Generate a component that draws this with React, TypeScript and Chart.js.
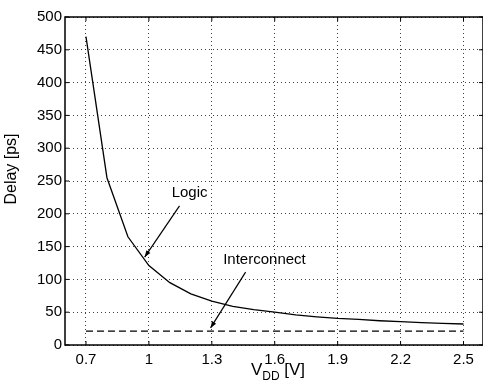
import React, { useEffect, useRef } from "react";
import { Chart, registerables } from "chart.js";

Chart.register(...registerables);

const voltages = [0.7, 0.8, 0.9, 1.0, 1.1, 1.2, 1.3, 1.4, 1.5, 1.6, 1.7, 1.8, 1.9, 2.0, 2.1, 2.2, 2.3, 2.4, 2.5];
const logicDelay = [470, 255, 165, 121, 95, 78, 67, 59, 54, 50, 46, 43, 40.5, 39, 37, 35.5, 34, 33, 32];
const interconnectDelay = [21, 21, 21, 21, 21, 21, 21, 21, 21, 21, 21, 21, 21, 21, 21, 21, 21, 21, 21];
const xTickValues = [0.7, 1, 1.3, 1.6, 1.9, 2.2, 2.5];

// annotations: [label, textX, textY, arrowFromX, arrowFromY, arrowToX, arrowToY] in data units
const annotationLabels = ["Logic", "Interconnect"];
const annotationText = [
  [1.194, 232],
  [1.551, 130],
];
const annotationArrows = [
  [1.146, 212, 0.98, 134],
  [1.461, 111, 1.294, 26],
];

const FONT = "'Liberation Sans', Arial, Helvetica, sans-serif";

const framePlugin = {
  id: "frame",
  afterDraw(chart: any) {
    const { ctx, chartArea, scales } = chart;
    const xs = scales.x;
    const ys = scales.y;
    ctx.save();
    // border box
    ctx.strokeStyle = "#000";
    ctx.lineWidth = 1.5;
    ctx.setLineDash([]);
    ctx.strokeRect(chartArea.left, chartArea.top, chartArea.right - chartArea.left, chartArea.bottom - chartArea.top);

    // inward ticks
    ctx.lineWidth = 1;
    xTickValues.forEach((v) => {
      const px = xs.getPixelForValue(v);
      ctx.beginPath();
      ctx.moveTo(px, chartArea.bottom);
      ctx.lineTo(px, chartArea.bottom - 4);
      ctx.moveTo(px, chartArea.top);
      ctx.lineTo(px, chartArea.top + 4);
      ctx.stroke();
    });
    ys.ticks.forEach((t: any) => {
      const py = ys.getPixelForValue(t.value);
      ctx.beginPath();
      ctx.moveTo(chartArea.left, py);
      ctx.lineTo(chartArea.left + 4, py);
      ctx.moveTo(chartArea.right, py);
      ctx.lineTo(chartArea.right - 4, py);
      ctx.stroke();
    });

    // annotations
    ctx.fillStyle = "#000";
    ctx.font = `15px ${FONT}`;
    ctx.textAlign = "center";
    ctx.textBaseline = "middle";
    annotationLabels.forEach((lab, i) => {
      const [tx, ty] = annotationText[i];
      ctx.fillText(lab, xs.getPixelForValue(tx), ys.getPixelForValue(ty));
      const [fx, fy, txv, tyv] = annotationArrows[i];
      const x1 = xs.getPixelForValue(fx);
      const y1 = ys.getPixelForValue(fy);
      const x2 = xs.getPixelForValue(txv);
      const y2 = ys.getPixelForValue(tyv);
      ctx.lineWidth = 1.2;
      ctx.beginPath();
      ctx.moveTo(x1, y1);
      ctx.lineTo(x2, y2);
      ctx.stroke();
      const ang = Math.atan2(y2 - y1, x2 - x1);
      const L = 7;
      const W = 0.35;
      ctx.beginPath();
      ctx.moveTo(x2, y2);
      ctx.lineTo(x2 - L * Math.cos(ang - W), y2 - L * Math.sin(ang - W));
      ctx.lineTo(x2 - L * Math.cos(ang + W), y2 - L * Math.sin(ang + W));
      ctx.closePath();
      ctx.fill();
    });

    // axis titles
    ctx.save();
    ctx.translate(12, (chartArea.top + chartArea.bottom) / 2 - 12);
    ctx.rotate(-Math.PI / 2);
    ctx.font = `16px ${FONT}`;
    ctx.textAlign = "center";
    ctx.textBaseline = "middle";
    ctx.fillText("Delay [ps]", 0, 0);
    ctx.restore();

    const cx = (chartArea.left + chartArea.right) / 2 + 4;
    const baseY = chartArea.bottom + 30;
    ctx.textAlign = "left";
    ctx.textBaseline = "alphabetic";
    ctx.font = `17px ${FONT}`;
    const wV = ctx.measureText("V").width;
    ctx.font = `12px ${FONT}`;
    const wDD = ctx.measureText("DD").width;
    ctx.font = `17px ${FONT}`;
    const wRest = ctx.measureText(" [V]").width;
    let x0 = cx - (wV + wDD + wRest) / 2;
    ctx.fillText("V", x0, baseY);
    x0 += wV;
    ctx.font = `12px ${FONT}`;
    ctx.fillText("DD", x0, baseY + 5);
    x0 += wDD;
    ctx.font = `17px ${FONT}`;
    ctx.fillText(" [V]", x0, baseY);
    ctx.restore();
  },
};

export default function App() {
  const ref = useRef<HTMLCanvasElement | null>(null);
  useEffect(() => {
    if (!ref.current) return;
    const chart = new Chart(ref.current, {
      type: "line",
      data: {
        datasets: [
          {
            label: "Logic",
            data: voltages.map((v, i) => ({ x: v, y: logicDelay[i] })),
            borderColor: "#000",
            borderWidth: 1.3,
            pointRadius: 0,
            tension: 0,
            fill: false,
          },
          {
            label: "Interconnect",
            data: voltages.map((v, i) => ({ x: v, y: interconnectDelay[i] })),
            borderColor: "#000",
            borderWidth: 1.2,
            borderDash: [7, 4],
            pointRadius: 0,
            tension: 0,
            fill: false,
          },
        ],
      },
      options: {
        animation: false,
        responsive: false,
        devicePixelRatio: 1,
        layout: { padding: { top: 17, right: 0, left: 0, bottom: 0 } },
        plugins: { legend: { display: false }, tooltip: { enabled: false } },
        scales: {
          x: {
            type: "linear",
            min: 0.6,
            max: 2.593,
            afterBuildTicks: (s: any) => {
              s.ticks = xTickValues.map((v) => ({ value: v }));
            },
            afterFit: (s: any) => {
              s.height = 36;
            },
            ticks: {
              color: "#000",
              font: { size: 15, family: FONT },
              padding: 6,
              maxRotation: 0,
              autoSkip: false,
              callback: (v: any) => String(v),
            },
            grid: {
              color: "rgba(0,0,0,0.75)",
              lineWidth: 1,
              drawTicks: false,
            },
            border: { display: false, dash: [1, 3] },
          },
          y: {
            type: "linear",
            min: 0,
            max: 500,
            afterFit: (s: any) => {
              s.width = 65;
            },
            ticks: {
              stepSize: 50,
              color: "#000",
              font: { size: 15, family: FONT },
              padding: 3,
            },
            grid: {
              color: "rgba(0,0,0,0.75)",
              lineWidth: 1,
              drawTicks: false,
            },
            border: { display: false, dash: [1, 3] },
          },
        },
      },
      plugins: [framePlugin],
    } as any);
    return () => chart.destroy();
  }, []);
  return (
    <div style={{ position: "fixed", left: 0, top: 0, width: 483, height: 381, overflow: "hidden", background: "#fff" }}>
      <canvas ref={ref} width={483} height={381} />
    </div>
  );
}
